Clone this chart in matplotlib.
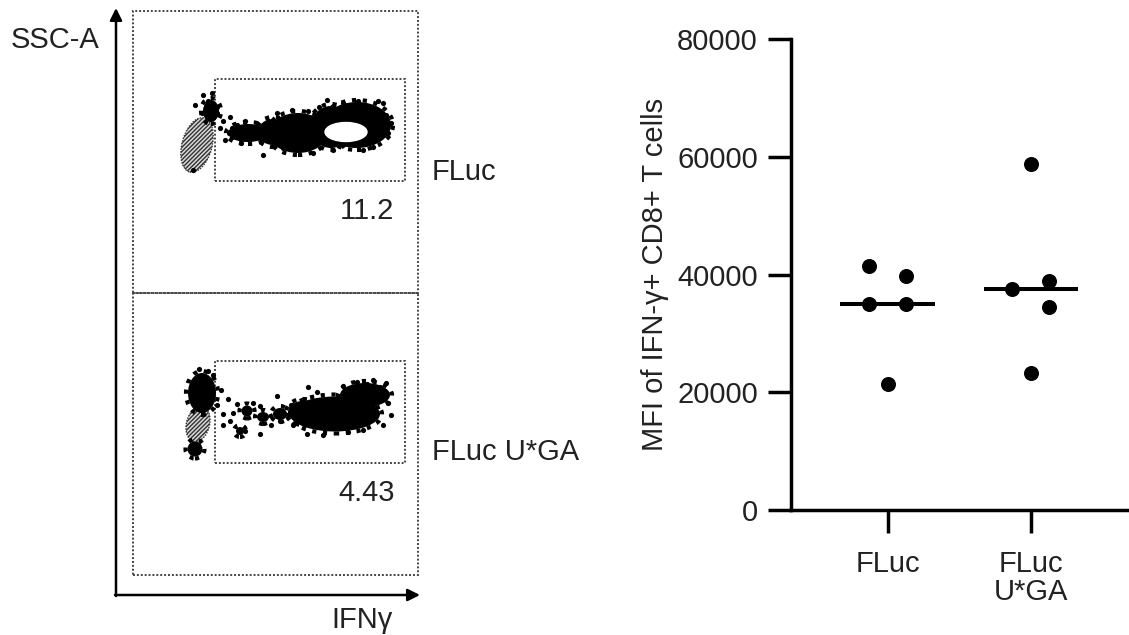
import numpy as np
import matplotlib
matplotlib.use("Agg")
import matplotlib.pyplot as plt
from matplotlib.patches import Ellipse, Rectangle

plt.rcParams["font.family"] = ["Liberation Sans", "DejaVu Sans"]

# right panel: MFI of IFN-y+ CD8+ T cells
GROUPS = ["FLuc", "FLuc\nU*GA"]
MFI = [
    [41500, 39700, 35000, 35000, 21400],   # FLuc
    [58800, 37500, 38900, 34500, 23200],   # FLuc U*GA
]
JITTER = [
    [-0.13, 0.13, -0.13, 0.13, 0.0],
    [0.0, -0.13, 0.13, 0.13, 0.0],
]
Y_TICKS = [0, 20000, 40000, 60000, 80000]

# left panel: flow plots (IFNy vs SSC-A, arbitrary units)
FLOW_LABELS = ["FLuc", "FLuc U*GA"]
GATE_PCT = ["11.2", "4.43"]
GATE = (82, 112, 190, 102)  # x, y, w, h
NEG_POP = [(64, 148, 30, 56, -15), (65, 151, 23, 36, -15)]
# dense event clouds: x, y, w, h
BLOBS = [
    [(115, 160, 40, 18), (140, 161, 30, 26), (165, 160, 58, 40),
     (198, 166, 40, 42), (224, 168, 68, 46), (78, 182, 16, 22)],
    [(69, 182, 28, 40), (62, 126, 15, 15), (202, 161, 90, 35),
     (232, 180, 50, 24), (170, 163, 30, 22), (114, 164, 11, 11),
     (130, 158, 12, 10), (147, 161, 14, 12), (107, 144, 8, 8)],
]
HOLES = [[(213, 161, 42, 19)], []]
DOTS = [
    [(70, 198), (79, 200), (62, 188), (69, 180), (84, 186), (84, 180), (87, 165),
     (97, 176), (99, 165), (99, 156), (92, 153), (60, 123), (130, 138), (144, 180),
     (159, 183), (194, 193), (210, 190), (237, 186), (250, 190), (253, 178),
     (255, 160), (108, 150), (112, 172), (135, 172), (180, 140), (200, 143),
     (240, 146), (150, 145), (75, 192), (90, 172), (96, 160), (104, 168),
     (225, 192), (245, 192), (258, 170), (230, 143), (175, 182), (186, 186)],
    [(175, 188), (184, 183), (210, 189), (224, 193), (234, 191), (247, 188),
     (144, 179), (127, 169), (114, 166), (104, 171), (112, 144), (127, 141),
     (174, 141), (147, 154), (97, 154), (90, 161), (84, 170), (90, 150),
     (80, 200), (255, 172), (258, 160), (250, 150), (100, 162), (160, 150),
     (88, 185), (95, 176), (120, 172), (138, 150), (158, 170), (190, 140),
     (240, 195), (253, 192), (215, 143), (230, 145), (66, 206), (75, 204)],
]

W, H = 1129, 635
fig = plt.figure(figsize=(W / 100, H / 100), dpi=100)

# overlay in pixel units for the flow axes arrows / labels
bg = fig.add_axes([0, 0, 1, 1])
bg.set_xlim(0, W)
bg.set_ylim(H, 0)
bg.axis("off")
arrow = dict(arrowstyle="-|>", lw=1.8, color="black", mutation_scale=18,
             shrinkA=0, shrinkB=0)
bg.annotate("", xy=(116, 8), xytext=(116, 596), arrowprops=arrow)
bg.annotate("", xy=(420, 595), xytext=(115, 595), arrowprops=arrow)
bg.text(55, 40, "SSC-A", fontsize=21, ha="center", va="center", color="#222")
bg.text(362, 620, "IFNγ", fontsize=21, ha="center", va="center", color="#222")

box_top = [11, 293]
for k in range(2):
    top = box_top[k]
    ax = fig.add_axes([133 / W, (H - top - 282) / H, 285 / W, 282 / H])
    ax.set_xlim(0, 285)
    ax.set_ylim(0, 282)
    ax.axis("off")
    ax.add_patch(Rectangle((0, 0), 285, 282, fill=False, ls=(0, (1, 1)),
                           lw=1.4, ec="#444", clip_on=False))
    x, y, w, h = GATE
    ax.add_patch(Rectangle((x, y), w, h, fill=False, ls=(0, (1, 1)),
                           lw=1.4, ec="#444"))
    # negative population, stippled
    cx, cy, ew, eh, ang = NEG_POP[k]
    ax.add_patch(Ellipse((cx, cy), ew, eh, angle=ang, fc="#d8d8d8", ec="#333",
                         hatch="////////", lw=1.0, ls=(0, (1, 1))))
    for bx, by, bw, bh in BLOBS[k]:
        ax.add_patch(Ellipse((bx, by), bw, bh, fc="black", ec="none"))
        # ragged edge
        ax.add_patch(Ellipse((bx, by), bw + 4, bh + 4, fill=False, ec="black",
                             lw=3, ls=(0, (1, 1.6))))
    for hx, hy, hw, hh in HOLES[k]:
        ax.add_patch(Ellipse((hx, hy), hw, hh, fc="white", ec="white",
                             zorder=3))
    dx, dy = zip(*DOTS[k])
    ax.scatter(dx, dy, s=14, c="black", marker="o", lw=0)
    ax.text(x + w - 38, y - 30, GATE_PCT[k], fontsize=21, ha="center",
            va="center", color="#222")
    bg.text(432, [172, 452][k], FLOW_LABELS[k], fontsize=21, ha="left",
            va="center", color="#222")

# right dot plot
px0, py0, py1 = 790.7, 510, 39
axr = fig.add_axes([px0 / W, (H - py0) / H, (W - px0) / W, (py0 - py1) / H])
xpos = np.arange(len(GROUPS))
for i, vals in enumerate(MFI):
    axr.scatter(xpos[i] + np.array(JITTER[i]), vals, s=117, c="black",
                zorder=3, lw=0)
    med = np.median(vals)
    axr.plot([xpos[i] - 0.33, xpos[i] + 0.33], [med, med], color="black",
             lw=2.9, solid_capstyle="butt", zorder=4)

axr.set_xlim(-0.678, 1.687)
axr.set_ylim(0, 80000)
axr.set_yticks(Y_TICKS)
axr.set_yticklabels([str(t) for t in Y_TICKS])
axr.set_xticks(xpos)
axr.set_xticklabels(GROUPS, linespacing=1.0)
axr.tick_params(axis="both", length=16.6, width=2.5, labelsize=21,
                labelcolor="#222", direction="out")
axr.tick_params(axis="y", pad=7)
axr.tick_params(axis="x", pad=12)
for s in ["top", "right"]:
    axr.spines[s].set_visible(False)
for s in ["left", "bottom"]:
    axr.spines[s].set_linewidth(2.5)
axr.patch.set_alpha(0)
axr.set_ylabel("MFI of IFN-γ+ CD8+ T cells", fontsize=21, color="#222",
               labelpad=6)

fig.savefig("out.png", dpi=100)
